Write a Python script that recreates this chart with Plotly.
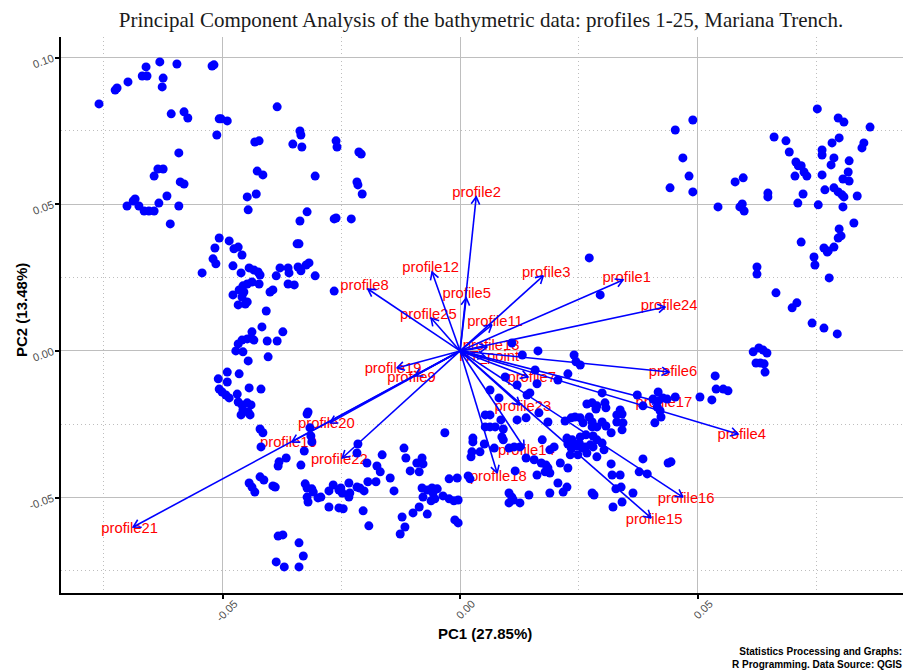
import numpy as np
import plotly.graph_objects as go

# individuals (scores on PC1 / PC2)
pc1 = [
    -0.0760, -0.0726, -0.0722, -0.0699, -0.0669, -0.0659, -0.0661, -0.0632, -0.0625, -0.0627,
    -0.0596, -0.0522, -0.0518, -0.0608, -0.0581, -0.0573, -0.0507, -0.0503, -0.0490, -0.0512,
    -0.0385, -0.0337, -0.0335, -0.0352, -0.0333, -0.0432, -0.0423, -0.0261, -0.0259, -0.0213,
    -0.0208, -0.0592, -0.0636, -0.0625, -0.0644, -0.0427, -0.0415, -0.0305, -0.0589, -0.0581,
    -0.0217, -0.0215, -0.0206, -0.0617, -0.0701, -0.0688, -0.0684, -0.0676, -0.0665, -0.0655,
    -0.0644, -0.0634, -0.0592, -0.0610, -0.0448, -0.0429, -0.0446, -0.0322, -0.0337, -0.0265,
    -0.0261, -0.0229, -0.0507, -0.0486, -0.0516, -0.0476, -0.0467, -0.0459, -0.0520, -0.0514,
    -0.0543, -0.0478, -0.0461, -0.0444, -0.0434, -0.0425, -0.0421, -0.0379, -0.0362, -0.0360,
    -0.0341, -0.0335, -0.0324, -0.0318, -0.0343, -0.0339, -0.0305, -0.0387, -0.0362, -0.0349,
    -0.0265, -0.0457, -0.0448, -0.0438, -0.0423, -0.0465, -0.0455, -0.0459, -0.0478, -0.0400,
    -0.0394, -0.0467, -0.0448, -0.0452, -0.0408, -0.0417, -0.0373, -0.0438, -0.0440, -0.0434,
    -0.0459, -0.0467, -0.0448, -0.0406, -0.0385, -0.0472, -0.0457, -0.0446, -0.0404, -0.0490,
    -0.0465, -0.0509, -0.0490, -0.0444, -0.0419, -0.0507, -0.0501, -0.0493, -0.0486, -0.0469,
    -0.0467, -0.0459, -0.0448, -0.0440, -0.0457, -0.0446, -0.0461, -0.0442, -0.0320, -0.0322,
    -0.0421, -0.0415, -0.0419, -0.0381, -0.0383, -0.0366, -0.0335, -0.0328, -0.0316, -0.0314,
    -0.0312, -0.0421, -0.0413, -0.0444, -0.0438, -0.0432, -0.0394, -0.0389, -0.0326, -0.0322,
    -0.0312, -0.0309, -0.0293, -0.0299, -0.0322, -0.0320, -0.0276, -0.0267, -0.0276, -0.0255,
    -0.0251, -0.0248, -0.0255, -0.0246, -0.0234, -0.0232, -0.0234, -0.0217, -0.0211, -0.0202,
    -0.0204, -0.0192, -0.0194, -0.0177, -0.0175, -0.0168, -0.0196, -0.0164, -0.0217, -0.0215,
    -0.0139, -0.0147, -0.0118, -0.0114, -0.0105, -0.0091, -0.0080, -0.0078, -0.0086, -0.0080,
    -0.0078, -0.0069, -0.0059, -0.0048, -0.0057, -0.0061, -0.0053, -0.0036, -0.0023, -0.0013,
    -0.0004, -0.0023, -0.0006, -0.0032, -0.0086, -0.0099, -0.0069, -0.0122, -0.0116, -0.0126,
    -0.0011, -0.0004, -0.0383, -0.0373, -0.0339, -0.0330, -0.0387, -0.0370, -0.0339,
    0.0109, 0.0164, 0.0131, 0.0240, 0.0244, 0.0253, 0.0095, 0.0158, 0.0120, 0.0141,
    0.0147, 0.0162, 0.0206, 0.0227, 0.0063, 0.0082, 0.0299, 0.0373, 0.0267, 0.0278,
    0.0288, 0.0305, 0.0307, 0.0286, 0.0337, 0.0341, 0.0330, 0.0120, 0.0139, 0.0185,
    0.0166, 0.0053, 0.0063, 0.0053, 0.0063, 0.0074, 0.0086, 0.0091, 0.0088, 0.0091,
    0.0221, 0.0234, 0.0242, 0.0253, 0.0259, 0.0272, 0.0278, 0.0278, 0.0288, 0.0299,
    0.0307, 0.0330, 0.0343, 0.0341, 0.0318, 0.0027, 0.0027, 0.0051, 0.0072, 0.0103,
    0.0114, 0.0126, 0.0173, 0.0198, 0.0189, 0.0225, 0.0236, 0.0253, 0.0265, 0.0280,
    0.0288, 0.0299, 0.0227, 0.0234, 0.0244, 0.0251, 0.0257, 0.0263, 0.0274, 0.0280,
    0.0267, 0.0248, 0.0232, 0.0288, 0.0303, 0.0025, 0.0023, 0.0042, 0.0139, 0.0156,
    0.0171, 0.0181, 0.0185, 0.0189, 0.0179, 0.0162, 0.0211, 0.0227, 0.0206, 0.0225,
    0.0217, 0.0189, 0.0318, 0.0320, 0.0337, 0.0377, 0.0328, 0.0339, 0.0364, 0.0322,
    0.0341, 0.0278, 0.0282, 0.0145, 0.0103, 0.0109, 0.0112, 0.0103, 0.0126, 0.0017,
    0.0021, 0.0116, 0.0417, 0.0406, 0.0417, 0.0427, 0.0436, 0.0453, 0.0415, 0.0421,
    0.0423, 0.0410, 0.0505, 0.0530, 0.0537, 0.0539, 0.0554, 0.0564, 0.0385, 0.0385,
    0.0438, 0.0444, 0.0394, 0.0617, 0.0629, 0.0638, 0.0646, 0.0623, 0.0632, 0.0640,
    0.0642, 0.0699, 0.0709, 0.0741, 0.0766, 0.0794, 0.0752, 0.0796, 0.0808, 0.0863,
    0.0798, 0.0783, 0.0850, 0.0846, 0.0762, 0.0762, 0.0787, 0.0819, 0.0781, 0.0817,
    0.0819, 0.0806, 0.0762, 0.0707, 0.0718, 0.0712, 0.0724, 0.0730, 0.0705, 0.0693,
    0.0686, 0.0661, 0.0722, 0.0711, 0.0754, 0.0768, 0.0787, 0.0796, 0.0804, 0.0808,
    0.0836, 0.0806, 0.0829, 0.0798, 0.0802, 0.0796, 0.0787, 0.0775, 0.0766, 0.0773,
    0.0718, 0.0745, 0.0747, 0.0777, 0.0665, 0.0625, 0.0625, 0.0648, 0.0648, 0.0579,
    0.0596, 0.0589, 0.0594, 0.0598, 0.0543, 0.0490, 0.0453, 0.0469, 0.0482, 0.0442,
    0.0490, 0.0272, 0.0295,
]
pc2 = [
    0.0842, 0.0889, 0.0896, 0.0917, 0.0937, 0.0937, 0.0968, 0.0985, 0.0930, 0.0900,
    0.0978, 0.0971, 0.0975, 0.0808, 0.0815, 0.0794, 0.0791, 0.0791, 0.0784, 0.0736,
    0.0832, 0.0750, 0.0736, 0.0705, 0.0695, 0.0712, 0.0716, 0.0716, 0.0695, 0.0678,
    0.0671, 0.0675, 0.0620, 0.0620, 0.0596, 0.0613, 0.0600, 0.0596, 0.0576, 0.0569,
    0.0576, 0.0566, 0.0535, 0.0528, 0.0494, 0.0511, 0.0518, 0.0494, 0.0477, 0.0477,
    0.0477, 0.0504, 0.0494, 0.0433, 0.0525, 0.0535, 0.0481, 0.0474, 0.0443, 0.0450,
    0.0453, 0.0450, 0.0385, 0.0375, 0.0351, 0.0348, 0.0354, 0.0327, 0.0314, 0.0297,
    0.0266, 0.0290, 0.0266, 0.0283, 0.0276, 0.0269, 0.0259, 0.0283, 0.0283, 0.0266,
    0.0286, 0.0273, 0.0293, 0.0300, 0.0365, 0.0365, 0.0256, 0.0256, 0.0228, 0.0225,
    0.0204, 0.0222, 0.0228, 0.0235, 0.0228, 0.0208, 0.0201, 0.0184, 0.0191, 0.0201,
    0.0208, 0.0157, 0.0167, 0.0160, 0.0136, 0.0082, 0.0065, 0.0065, 0.0044, 0.0037,
    0.0037, 0.0024, 0.0041, 0.0034, 0.0034, 0.0000, -0.0003, -0.0034, -0.0020, -0.0072,
    -0.0078, -0.0095, -0.0106, -0.0126, -0.0130, -0.0130, -0.0140, -0.0150, -0.0160, -0.0147,
    -0.0174, -0.0184, -0.0177, -0.0184, -0.0201, -0.0208, -0.0218, -0.0218, -0.0208, -0.0215,
    -0.0266, -0.0279, -0.0327, -0.0378, -0.0392, -0.0365, -0.0389, -0.0341, -0.0262, -0.0290,
    -0.0310, -0.0429, -0.0440, -0.0450, -0.0464, -0.0481, -0.0460, -0.0464, -0.0453, -0.0467,
    -0.0470, -0.0481, -0.0498, -0.0501, -0.0498, -0.0515, -0.0532, -0.0457, -0.0477, -0.0474,
    -0.0467, -0.0484, -0.0535, -0.0538, -0.0450, -0.0484, -0.0498, -0.0464, -0.0467, -0.0477,
    -0.0545, -0.0596, -0.0446, -0.0446, -0.0392, -0.0412, -0.0382, -0.0354, -0.0348, -0.0317,
    -0.0477, -0.0433, -0.0331, -0.0365, -0.0409, -0.0382, -0.0365, -0.0385, -0.0412, -0.0467,
    -0.0498, -0.0474, -0.0467, -0.0470, -0.0484, -0.0511, -0.0504, -0.0494, -0.0504, -0.0511,
    -0.0508, -0.0436, -0.0433, -0.0279, -0.0532, -0.0552, -0.0556, -0.0566, -0.0600, -0.0624,
    -0.0576, -0.0586, -0.0631, -0.0627, -0.0654, -0.0699, -0.0719, -0.0736, -0.0736,
    0.0027, 0.0000, -0.0014, -0.0014, -0.0037, -0.0048, -0.0089, -0.0065, -0.0116, -0.0150,
    -0.0143, -0.0112, -0.0099, -0.0078, -0.0133, -0.0160, -0.0143, -0.0150, -0.0181, -0.0177,
    -0.0187, -0.0177, -0.0194, -0.0198, -0.0201, -0.0215, -0.0218, -0.0235, -0.0228, -0.0242,
    -0.0211, -0.0218, -0.0218, -0.0259, -0.0259, -0.0259, -0.0235, -0.0266, -0.0293, -0.0303,
    -0.0239, -0.0228, -0.0225, -0.0228, -0.0245, -0.0225, -0.0242, -0.0259, -0.0259, -0.0242,
    -0.0256, -0.0242, -0.0245, -0.0269, -0.0279, -0.0297, -0.0310, -0.0317, -0.0331, -0.0331,
    -0.0327, -0.0327, -0.0303, -0.0327, -0.0337, -0.0297, -0.0303, -0.0293, -0.0286, -0.0290,
    -0.0303, -0.0314, -0.0317, -0.0331, -0.0324, -0.0314, -0.0331, -0.0327, -0.0320, -0.0327,
    -0.0348, -0.0354, -0.0354, -0.0361, -0.0337, -0.0344, -0.0361, -0.0344, -0.0365, -0.0371,
    -0.0382, -0.0389, -0.0399, -0.0416, -0.0412, -0.0423, -0.0382, -0.0399, -0.0450, -0.0464,
    -0.0481, -0.0484, -0.0385, -0.0423, -0.0423, -0.0412, -0.0470, -0.0464, -0.0484, -0.0532,
    -0.0515, -0.0484, -0.0491, -0.0491, -0.0484, -0.0498, -0.0508, -0.0518, -0.0518, -0.0426,
    -0.0436, -0.0409, -0.0140, -0.0164, -0.0170, -0.0160, -0.0164, -0.0157, -0.0191, -0.0204,
    -0.0225, -0.0245, -0.0157, -0.0167, -0.0085, -0.0130, -0.0130, -0.0136, -0.0187, -0.0368,
    -0.0382, -0.0378, -0.0419, -0.0003, 0.0010, 0.0003, -0.0007, -0.0041, -0.0041, -0.0044,
    -0.0072, 0.0147, 0.0164, 0.0095, 0.0078, 0.0058, 0.0825, 0.0794, 0.0780, 0.0763,
    0.0726, 0.0709, 0.0709, 0.0692, 0.0685, 0.0668, 0.0658, 0.0648, 0.0634, 0.0610,
    0.0579, 0.0586, 0.0600, 0.0644, 0.0631, 0.0631, 0.0610, 0.0596, 0.0596, 0.0678,
    0.0716, 0.0729, 0.0535, 0.0504, 0.0498, 0.0549, 0.0556, 0.0542, 0.0532, 0.0525,
    0.0528, 0.0491, 0.0436, 0.0416, 0.0392, 0.0385, 0.0354, 0.0341, 0.0351, 0.0337,
    0.0371, 0.0320, 0.0293, 0.0249, 0.0198, 0.0286, 0.0262, 0.0538, 0.0525, 0.0576,
    0.0590, 0.0491, 0.0501, 0.0477, 0.0491, 0.0787, 0.0753, 0.0658, 0.0596, 0.0556,
    0.0542, 0.0317, 0.0191,
]

# variables (arrow tips)
var_names = ["profile1", "profile2", "profile3", "profile4", "profile5", "profile6",
             "profile7", "profile8", "profile9", "profile10", "profile11", "profile12",
             "profile13", "profile14", "profile15", "profile16", "profile17", "profile18",
             "profile19", "profile20", "profile21", "profile22", "profile23", "profile24",
             "profile25", "HT_point"]
load1 = [0.0343, 0.0034, 0.0175, 0.0585, 0.0013, 0.0440, 0.0143, -0.0194, -0.0095, -0.0354,
         0.0067, -0.0059, 0.0057, 0.0135, 0.0402, 0.0469, 0.0421, 0.0078, -0.0133, -0.0274,
         -0.0688, -0.0248, 0.0126, 0.0432, -0.0061, 0.0053]
load2 = [0.0242, 0.0525, 0.0256, -0.0283, 0.0181, -0.0072, -0.0089, 0.0211, -0.0085, -0.0310,
         0.0089, 0.0269, 0.0014, -0.0331, -0.0569, -0.0498, -0.0174, -0.0416, -0.0058, -0.0245,
         -0.0600, -0.0365, -0.0184, 0.0150, 0.0112, -0.0020]

x_ticks = [-0.05, 0.0, 0.05]
y_ticks = [-0.05, 0.0, 0.05, 0.10]
minor_ticks = [-0.075, -0.025, 0.025, 0.075]

# the page body keeps its 8px margin, so the figure is a bit smaller than the window
PAD = 8
W, H = 911 - PAD, 672 - PAD
MARGIN = dict(l=61 - PAD, r=2, t=37 - PAD, b=79)
X_RANGE = [-0.0840, 0.0945]
Y_RANGE = [-0.0825, 0.1070]

plot_w = W - MARGIN["l"] - MARGIN["r"]
plot_h = H - MARGIN["t"] - MARGIN["b"]
# pixels per data unit, used to draw the open arrow heads
sx = plot_w / (X_RANGE[1] - X_RANGE[0])
sy = plot_h / (Y_RANGE[1] - Y_RANGE[0])

BLUE = "#0000FF"
RED = "#FF0000"

ax, ay = [], []
lx, ly = [], []
head_len, head_ang = 8.5, np.radians(30)
label_push = 4  # px, labels sit just past the arrow tip
for x, y in zip(load1, load2):
    th = np.arctan2(y * sy, x * sx)
    hx, hy = [], []
    for s in (1, -1):
        a = th + np.pi + s * head_ang
        hx.append(x + head_len * np.cos(a) / sx)
        hy.append(y + head_len * np.sin(a) / sy)
    ax += [0, x, None, hx[0], x, hx[1], None]
    ay += [0, y, None, hy[0], y, hy[1], None]
    lx.append(x + label_push * np.cos(th) / sx)
    ly.append(y + label_push * np.sin(th) / sy)

fig = go.Figure()

# labels first, points and arrows drawn over them like in the original
fig.add_trace(go.Scatter(
    x=lx, y=ly, mode="text", text=var_names,
    textposition="middle center",
    textfont=dict(family="Liberation Sans, Arial", size=14.8, color=RED),
    hoverinfo="skip", showlegend=False,
))
fig.add_trace(go.Scatter(
    x=ax, y=ay, mode="lines",
    line=dict(color=BLUE, width=1.6),
    hoverinfo="skip", showlegend=False,
))
fig.add_trace(go.Scatter(
    x=pc1, y=pc2, mode="markers",
    marker=dict(color=BLUE, size=9, line=dict(width=0)),
    showlegend=False,
))

grid_col = "#BEBEBE"
axis_common = dict(
    showline=True, linecolor="black", linewidth=2, mirror=False,
    ticks="outside", ticklen=4, tickwidth=1.5, tickcolor="black",
    showgrid=True, gridcolor=grid_col, gridwidth=1, zeroline=False,
    automargin=False,
    tickfont=dict(family="Liberation Sans, Arial", size=11, color="#4D4D4D"),
    minor=dict(tickvals=minor_ticks, showgrid=True, griddash="1px,3px",
               gridcolor=grid_col, gridwidth=1, ticks=""),
)

fig.update_xaxes(
    range=X_RANGE, tickvals=x_ticks, ticktext=[f"{v:.2f}" for v in x_ticks],
    tickangle=-45, ticklabelshift=12, ticklabelstandoff=-6,
    **axis_common,
)
fig.update_yaxes(
    range=Y_RANGE, tickvals=y_ticks, ticktext=[f"{v:.2f}" for v in y_ticks],
    tickangle=-20,
    **axis_common,
)

fig.update_layout(
    width=W, height=H, autosize=False,
    margin=MARGIN,
    paper_bgcolor="white", plot_bgcolor="white",
    title=dict(
        text="Principal Component Analysis of the bathymetric data: profiles 1-25, Mariana Trench.",
        font=dict(family="Liberation Serif, Times New Roman", size=21, color="#1A1A1A"),
        x=(481 - PAD) / W, xanchor="center", xref="container",
        y=1 - (20 - PAD) / H, yanchor="middle", yref="container",
    ),
    annotations=[
        dict(text="<b>PC1 (27.85%)</b>", xref="paper", yref="paper",
             x=0.5, y=-40 / plot_h, xanchor="center", yanchor="middle", showarrow=False,
             font=dict(family="Liberation Sans, Arial", size=15, color="black")),
        dict(text="<b>PC2 (13.48%)</b>", xref="paper", yref="paper",
             x=-39 / plot_w, y=(593 - 310) / plot_h, xanchor="center", yanchor="middle",
             textangle=-90, showarrow=False,
             font=dict(family="Liberation Sans, Arial", size=15, color="black")),
        dict(text="<b>Statistics Processing and Graphs:<br>R Programming. Data Source: QGIS</b>",
             xref="paper", yref="paper", x=1.0, y=-65 / plot_h, xshift=-5,
             xanchor="right", yanchor="middle", align="right", showarrow=False,
             font=dict(family="Liberation Sans, Arial", size=10, color="black")),
    ],
)

fig.write_html("out.html")
